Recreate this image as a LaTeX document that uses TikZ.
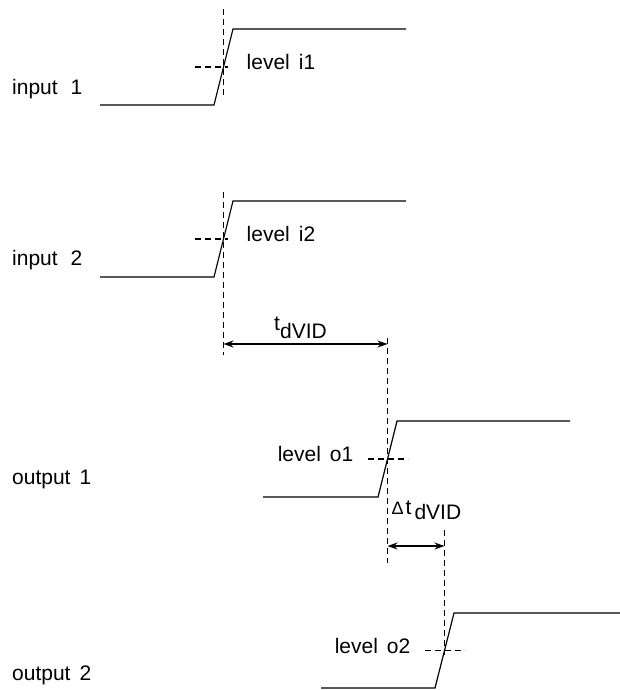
\documentclass[tikz,border=0pt]{standalone}
\usepackage{fontspec}
\setmainfont{Liberation Sans}
\usetikzlibrary{arrows.meta}

\newcommand{\lblfont}{\fontsize{21}{25}\selectfont\spaceskip=9pt\relax}

\begin{document}
\begin{tikzpicture}[x=1pt, y=-1pt,
    wave/.style={line width=1.2pt},
    level/.style={line width=1.7pt, dash pattern=on 6pt off 4pt},
    dim/.style={line width=1.3pt, {Stealth[length=10pt,width=7pt]}-{Stealth[length=10pt,width=7pt]}},
    lbl/.style={inner sep=0pt, anchor=mid west, font=\lblfont}]
  \useasboundingbox (0,0) rectangle (620,690);

  % the four edges: name / low start / rise start / rise end / high end / low y / high y
  \foreach \sig/\xa/\xb/\xc/\xd/\ylo/\yhi in {in1/100/214/233/406/105/29, in2/100/214/233/406/277/201,
      out1/263/378/397/570/497/421, out2/321/435/454/620/688/613} {
    \draw[wave] (\xa,\ylo) -- (\xb,\ylo) -- (\xc,\yhi) -- (\xd,\yhi);
    % switching point in the middle of the edge
    \coordinate (\sig) at ({(\xb+\xc)/2},{(\ylo+\yhi)/2});
  }

  % signal names
  \node[lbl] (nin1) at (12,92) {input\hspace{4pt} 1};
  \node[lbl] (nin2) at (12,263) {input\hspace{4pt} 2};
  \node[lbl] (nout1) at (12,482) {output 1};
  \node[lbl] (nout2) at (12,678) {output 2};

  % switching levels
  \foreach \sig/\txt in {in1/i1, in2/i2} {
    \draw[level] ([xshift=-29]\sig) -- ([xshift=4]\sig);
    \node[lbl] (l\sig) at ([xshift=23]\sig) {level \txt};
  }
  \foreach \sig/\txt in {out1/o1, out2/o2} {
    \draw[level] ([xshift=-20]\sig) -- ([xshift=20]\sig);
    \node[lbl, anchor=mid east] (l\sig) at ([xshift=-34]\sig) {level \txt};
  }

  % time markers
  \draw[level] (in1 |- 0,9) -- (in1 |- 0,96);
  \draw[level] (in2 |- 0,192) -- (in2 |- 0,355);
  \draw[level] (out1 |- 0,338) -- (out1 |- 0,563);
  \draw[level] (out2 |- 0,530) -- (out2 |- 0,655);

  % delay and skew
  \coordinate (tA) at (in2 |- 0,344);
  \coordinate (tB) at (out1 |- 0,344);
  \draw[dim] (tA) -- (tB)
    node[lbl, midway, anchor=south, xshift=-5pt, yshift=5pt] (tdvid) {t\raisebox{-7.5pt}{dVID}};
  \coordinate (dA) at (out1 |- 0,546);
  \coordinate (dB) at (out2 |- 0,546);
  \draw[dim] (dA) -- (dB);
  \node[lbl, anchor=south west, xshift=4pt, yshift=26pt] (dtdvid) at (dA)
    {{\fontsize{18}{18}\selectfont Δ}\hspace{2pt}t\hspace{3pt}\raisebox{-5.5pt}{dVID}};
\end{tikzpicture}
\end{document}
